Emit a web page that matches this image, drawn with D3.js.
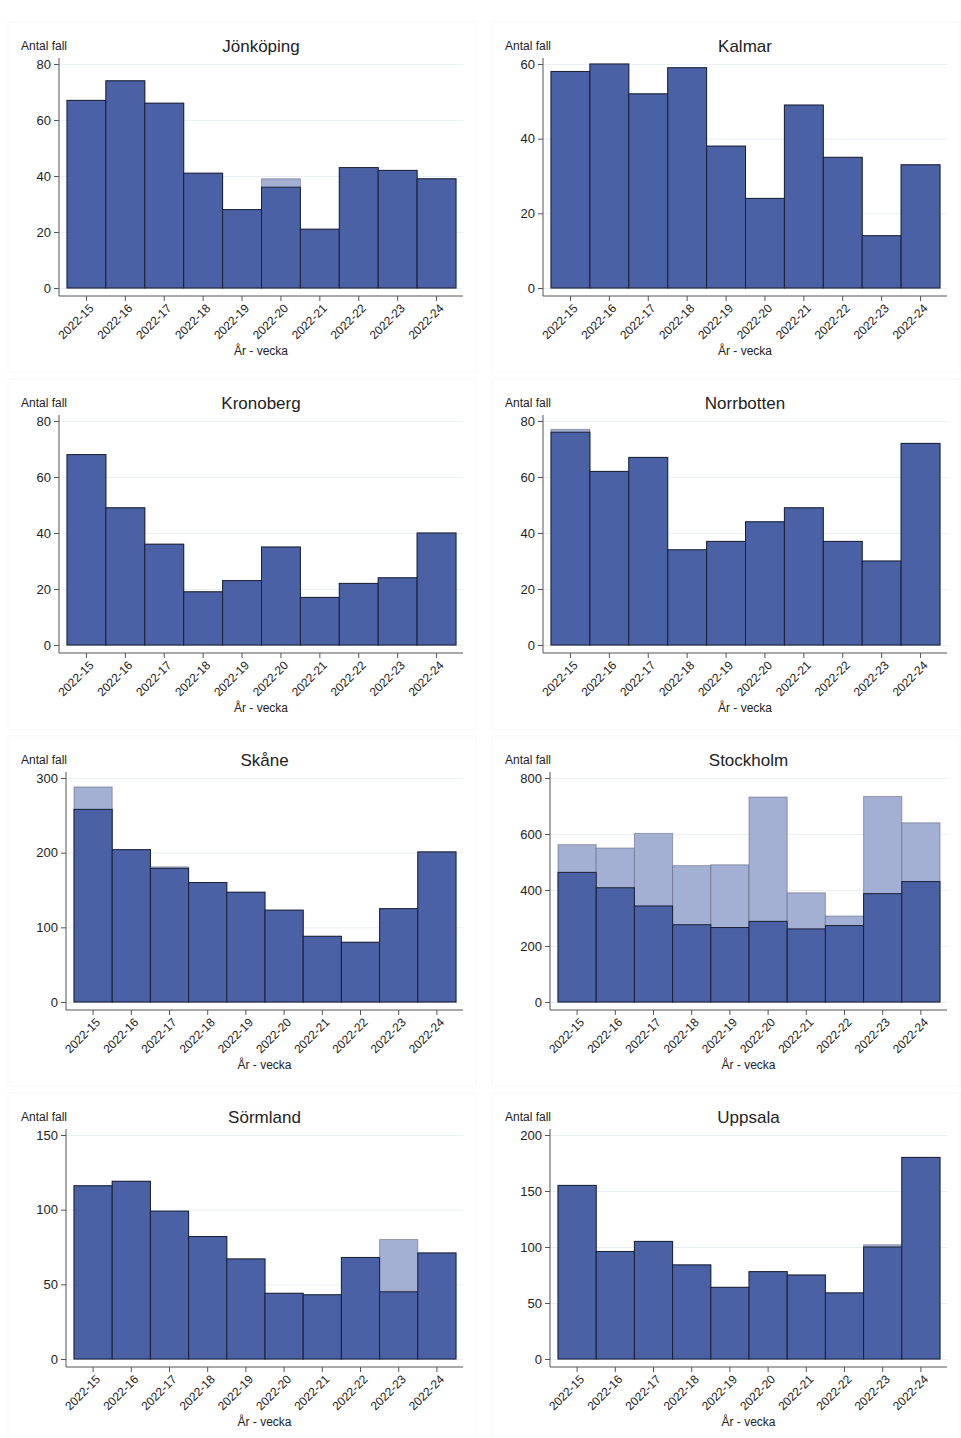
<!DOCTYPE html>
<html><head><meta charset="utf-8">
<script src="https://cdn.jsdelivr.net/npm/d3@7"></script>
<style>body{margin:0;background:#fff}text{font-family:Arial,"Liberation Sans",sans-serif;fill:#222}</style>
</head><body><div id="chart"></div>
<script>
var weeks = ['2022-15','2022-16','2022-17','2022-18','2022-19','2022-20','2022-21','2022-22','2022-23','2022-24']
var regions = ['Jönköping','Kalmar','Kronoberg','Norrbotten','Skåne','Stockholm','Sörmland','Uppsala']
var yMax = [80, 60, 80, 80, 300, 800, 150, 200]
var yStep = [20, 20, 20, 20, 100, 200, 50, 50]
// confirmed (dark) and total (light) per region
var darkVals = [
	[67,74,66,41,28,36,21,43,42,39],
	[58,60,52,59,38,24,49,35,14,33],
	[68,49,36,19,23,35,17,22,24,40],
	[76,62,67,34,37,44,49,37,30,72],
	[258,204,179,160,147,123,88,80,125,201],
	[463,408,343,276,266,288,261,273,387,430],
	[116,119,99,82,67,44,43,68,45,71],
	[155,96,105,84,64,78,75,59,100,180]
]
var lightVals = [
	[67,74,66,41,28,39,21,43,42,39],
	[58,60,52,59,38,24,49,35,14,33],
	[68,49,36,19,23,35,17,22,24,40],
	[77,62,67,34,37,44,49,37,30,72],
	[288,204,181,160,147,123,88,80,125,201],
	[562,550,602,487,490,732,390,307,734,640],
	[116,119,99,82,67,44,43,68,80,71],
	[155,96,105,84,64,78,75,59,102,180]
]

var svg = d3.select('#chart').append('svg').attr('width', 961).attr('height', 1438)

regions.forEach(function(name, i) {
	var col = i % 2, row = Math.floor(i / 2)
	var ox = col * 484, oy = row * 357
	var wide = yMax[i] >= 100
	var axisX = ox + (wide ? 66 : 59)
	var right = ox + 463
	var top = oy + 64, bottom = oy + 288

	svg.append('rect').attr('x', ox + 8).attr('y', oy + 22).attr('width', 468).attr('height', 350)
		.attr('fill', 'none').attr('stroke', '#f8f8f8')

	var y = d3.scaleLinear().domain([0, yMax[i]]).range([bottom, top])
	var x = d3.scaleBand().domain(weeks).range([axisX + 8, ox + 456])

	var g = svg.append('g')
	g.append('g').attr('transform', 'translate(' + axisX + ',0)')
		.call(d3.axisLeft(y).tickValues(d3.range(0, yMax[i] + 1, yStep[i])).tickSize(-(right - axisX)).tickFormat(''))
		.call(function(s) { s.select('.domain').remove(); s.selectAll('line').attr('stroke', '#e8eff5') })
	var ya = g.append('g').attr('transform', 'translate(' + axisX + ',0)')
		.call(d3.axisLeft(y).tickValues(d3.range(0, yMax[i] + 1, yStep[i])).tickSize(5).tickSizeOuter(0))
	ya.select('.domain').attr('d', 'M0,' + (bottom + 8) + 'V' + (top - 6)).attr('stroke', '#555')
	ya.selectAll('line').attr('stroke', '#555')
	ya.selectAll('text').style('font-size', '13px')

	g.selectAll('rect.light').data(lightVals[i]).enter().append('rect')
		.attr('x', function(d, j) { return x(weeks[j]) }).attr('width', x.bandwidth())
		.attr('y', function(d) { return y(d) }).attr('height', function(d) { return bottom - y(d) })
		.attr('fill', '#a3b0d3').attr('stroke', '#555a6e').attr('stroke-opacity', 0.5)
	g.selectAll('rect.dark').data(darkVals[i]).enter().append('rect')
		.attr('x', function(d, j) { return x(weeks[j]) }).attr('width', x.bandwidth())
		.attr('y', function(d) { return y(d) }).attr('height', function(d) { return bottom - y(d) })
		.attr('fill', '#4a61a5').attr('stroke', '#1a2035')

	var xa = g.append('g').attr('transform', 'translate(0,' + (bottom + 8) + ')')
		.call(d3.axisBottom(x).tickSize(5).tickSizeOuter(0))
	xa.select('.domain').attr('d', 'M' + axisX + ',0H' + right).attr('stroke', '#555')
	xa.selectAll('line').attr('stroke', '#555')
	xa.selectAll('text').style('font-size', '12px').attr('text-anchor', 'end')
		.attr('x', 0).attr('y', 0).attr('dy', '0.35em').attr('transform', 'translate(5,10) rotate(-45)')

	svg.append('text').attr('x', (axisX + right) / 2).attr('y', oy + 52).attr('text-anchor', 'middle')
		.style('font-size', '17px').text(name)
	svg.append('text').attr('x', ox + 21).attr('y', oy + 50).style('font-size', '12px').text('Antal fall')
	svg.append('text').attr('x', (axisX + right) / 2).attr('y', oy + 355).attr('text-anchor', 'middle')
		.style('font-size', '12px').text('År - vecka')
})
</script></body></html>
